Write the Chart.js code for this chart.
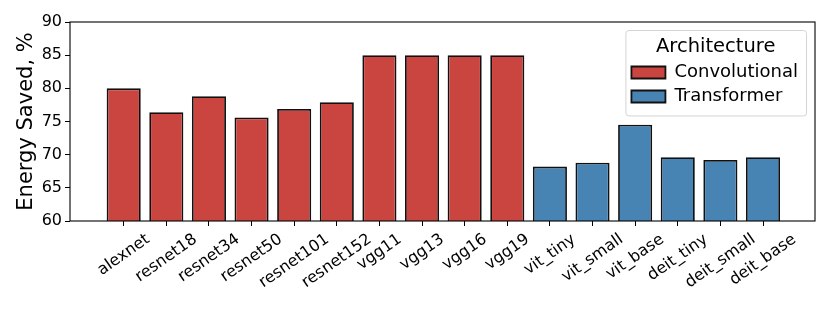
<!DOCTYPE html>
<html>
<head>
<meta charset="utf-8">
<script src="https://cdn.jsdelivr.net/npm/chart.js@4.4.1/dist/chart.umd.min.js"></script>
<style>
  html, body { margin: 0; padding: 0; background: #fff; }
  #wrap { width: 830px; height: 312px; }
</style>
</head>
<body>
<div id="wrap"><canvas id="chart" width="830" height="312"></canvas></div>
<script>
// Energy saved per model, coloured by architecture family

const models = ['alexnet', 'resnet18', 'resnet34', 'resnet50', 'resnet101', 'resnet152',
  'vgg11', 'vgg13', 'vgg16', 'vgg19', 'vit_tiny', 'vit_small', 'vit_base',
  'deit_tiny', 'deit_small', 'deit_base'];
const energySaved = [80.0, 76.4, 78.8, 75.6, 76.9, 77.9, 85.0, 85.0, 85.0, 85.0,
  68.2, 68.8, 74.5, 69.6, 69.2, 69.6];
const architecture = ['Convolutional', 'Convolutional', 'Convolutional', 'Convolutional',
  'Convolutional', 'Convolutional', 'Convolutional', 'Convolutional', 'Convolutional',
  'Convolutional', 'Transformer', 'Transformer', 'Transformer', 'Transformer',
  'Transformer', 'Transformer'];
const families = ['Convolutional', 'Transformer'];
const familyColors = ['#ca4540', '#4884b3'];
const yTicks = [60, 65, 70, 75, 80, 85, 90];

const FONT = 'DejaVu Sans';
const ROT = 35;
Chart.defaults.font.family = FONT;
Chart.defaults.color = '#000';

function pointsFor(family) {
  const pts = [];
  models.forEach((m, i) => {
    if (architecture[i] === family) pts.push({ x: i, y: energySaved[i] });
  });
  return pts;
}

// legend sits inside the axes (top right) with a light rounded frame,
// plus a black box around the plot area and centred rotated x labels
const extras = {
  id: 'extras',
  afterLayout(chart) {
    const lg = chart.legend;
    const a = chart.chartArea;
    const w = lg.width - 2;
    const h = lg._computeTitleHeight() + lg.options.labels.padding + lg.columnSizes[0].height + 4;
    lg.left = a.right - 9 - w;
    lg.top = a.top + 8;
    lg.width = w;
    lg.height = h;
    lg.right = lg.left + w;
    lg.bottom = lg.top + h;
  },
  beforeDraw(chart) {
    const ctx = chart.ctx;
    const lg = chart.legend;
    ctx.save();
    ctx.beginPath();
    ctx.roundRect(lg.left + 0.5, lg.top + 0.5, lg.width, lg.height, 3);
    ctx.fillStyle = '#fff';
    ctx.fill();
    ctx.strokeStyle = '#d4d4d4';
    ctx.lineWidth = 1;
    ctx.stroke();
    ctx.restore();

    const xs = chart.scales.x;
    const items = xs.getLabelItems();
    if (!items._centred) {
      ctx.save();
      ctx.font = '16px "' + FONT + '"';
      items.forEach(it => {
        const w = ctx.measureText(it.label).width;
        it.options.translation[0] += w * Math.cos(ROT * Math.PI / 180) / 2;
      });
      ctx.restore();
      items._centred = true;
    }
  },
  afterDatasetsDraw(chart) {
    const a = chart.chartArea;
    const ctx = chart.ctx;
    ctx.save();
    ctx.strokeStyle = '#000';
    ctx.lineWidth = 1.1;
    ctx.strokeRect(a.left, a.top, a.right - a.left, a.bottom - a.top);
    ctx.restore();
  }
};

new Chart(document.getElementById('chart'), {
  type: 'bar',
  data: {
    datasets: families.map((fam, k) => ({
      label: fam,
      data: pointsFor(fam),
      backgroundColor: familyColors[k],
      borderColor: '#111',
      borderWidth: 1.8,
      borderSkipped: false,
      grouped: false,
      barPercentage: 0.8,
      categoryPercentage: 1.0,
    })),
  },
  options: {
    responsive: false,
    animation: false,
    devicePixelRatio: 1,
    layout: { padding: { top: 22, right: 15, left: 0, bottom: 0 } },
    plugins: {
      tooltip: { enabled: false },
      legend: {
        position: 'chartArea',
        align: 'start',
        title: {
          display: true,
          text: 'Architecture',
          font: { size: 19.5, lineHeight: 1.05 },
          padding: { top: 7, bottom: 0 },
        },
        labels: {
          boxWidth: 34,
          boxHeight: 12,
          padding: 6,
          font: { size: 18 },
        },
      },
    },
    scales: {
      x: {
        type: 'linear',
        offset: false,
        min: -1.26,
        max: 16.22,
        afterBuildTicks(scale) { scale.ticks = models.map((m, i) => ({ value: i })); },
        afterFit(scale) { scale.height = 91; },
        ticks: {
          callback: v => models[v],
          autoSkip: false,
          minRotation: ROT,
          maxRotation: ROT,
          padding: 4,
          font: { size: 16 },
        },
        grid: { offset: false, drawOnChartArea: false, drawTicks: true, tickLength: 5, color: '#000' },
        border: { display: false },
      },
      y: {
        min: 60,
        max: 90,
        afterBuildTicks(scale) { scale.ticks = yTicks.map(v => ({ value: v })); },
        afterFit(scale) { scale.width = 70; },
        ticks: { padding: 3, font: { size: 16 } },
        grid: { drawOnChartArea: false, drawTicks: true, tickLength: 5, color: '#000' },
        border: { display: false },
        title: {
          display: true,
          text: 'Energy Saved, %',
          font: { size: 21 },
          padding: { top: 14, bottom: 0 },
        },
      },
    },
  },
  plugins: [extras],
});
</script>
</body>
</html>
